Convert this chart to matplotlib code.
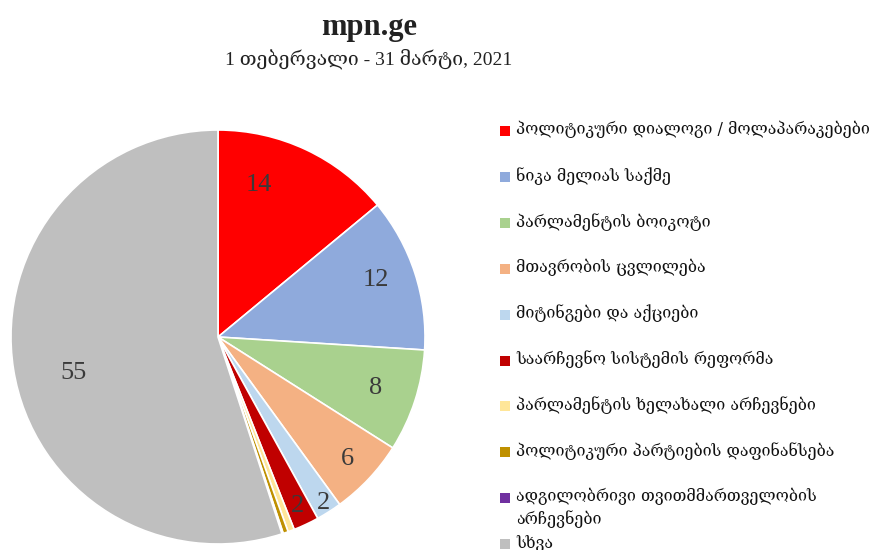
import matplotlib.pyplot as plt
from matplotlib.patches import Rectangle
import numpy as np

# ყველაზე ხშირად განხილული თემები, mpn.ge
categories = [
    "პოლიტიკური დიალოგი / მოლაპარაკებები",
    "ნიკა მელიას საქმე",
    "პარლამენტის ბოიკოტი",
    "მთავრობის ცვლილება",
    "მიტინგები და აქციები",
    "საარჩევნო სისტემის რეფორმა",
    "პარლამენტის ხელახალი არჩევნები",
    "პოლიტიკური პარტიების დაფინანსება",
    "ადგილობრივი თვითმმართველობის\nარჩევნები",
    "სხვა",
]
values = [14, 12, 8, 6, 2, 2, 0.5, 0.4, 0.1, 55]
value_labels = ["14", "12", "8", "6", "2", "2", "", "", "", "55"]
colors = ["#ff0000", "#8faadc", "#a9d18e", "#f4b183", "#bdd7ee",
          "#c00000", "#ffe699", "#bf9000", "#7030a0", "#bfbfbf"]
# label placement: distance from centre (fraction of radius), angle shift (deg)
label_dist = [0.76, 0.81, 0.80, 0.86, 0.95, 0.90, 0, 0, 0, 0.72]
label_shift = [10, 2, 0, 0, 0, 0, 0, 0, 0, 5]

W, H = 877, 550
fig = plt.figure(figsize=(W / 100, H / 100), dpi=100)

# pie axes in pixels: centre (218, 337), radius 207
cx, cy, r = 218, 337, 207
ax = fig.add_axes([(cx - r) / W, (H - cy - r) / H, 2 * r / W, 2 * r / H])
wedges, _ = ax.pie(values, colors=colors, startangle=90, counterclock=False,
                   wedgeprops=dict(edgecolor="white", linewidth=1.2))
ax.set_xlim(-1, 1)
ax.set_ylim(-1, 1)

for w, lab, d, s in zip(wedges, value_labels, label_dist, label_shift):
    if not lab:
        continue
    ang = np.deg2rad((w.theta1 + w.theta2) / 2 + s)
    ax.text(d * np.cos(ang), d * np.sin(ang), lab, ha="center", va="center",
            fontsize=19, color="#3a3a3a", family=["Liberation Serif", "DejaVu Serif"])

# titles
serif = ["Liberation Serif", "DejaVu Serif"]
fig.text(369 / W, 1 - 27 / H, "mpn.ge", ha="center", va="center",
         fontsize=22, fontweight="bold", family=serif, color="#222222")
fig.text(369 / W, 1 - 59 / H, "1 თებერვალი - 31 მარტი, 2021",
         ha="center", va="center", fontsize=14, family=serif, color="#222222")

# legend drawn by hand to keep Excel-like spacing
y0, step = 131, 45.9
for i, (cat, col) in enumerate(zip(categories, colors)):
    y = y0 + step * i
    fig.patches.append(Rectangle((500 / W, 1 - (y + 5) / H), 10 / W, 10 / H,
                                 transform=fig.transFigure, facecolor=col,
                                 edgecolor="none"))
    fig.text(516 / W, 1 - (y - 10) / H, cat, ha="left", va="top", fontsize=11.5,
             linespacing=1.35, family=["DejaVu Serif", "DejaVu Sans"], color="#111111")

fig.savefig("out.png", dpi=100)
